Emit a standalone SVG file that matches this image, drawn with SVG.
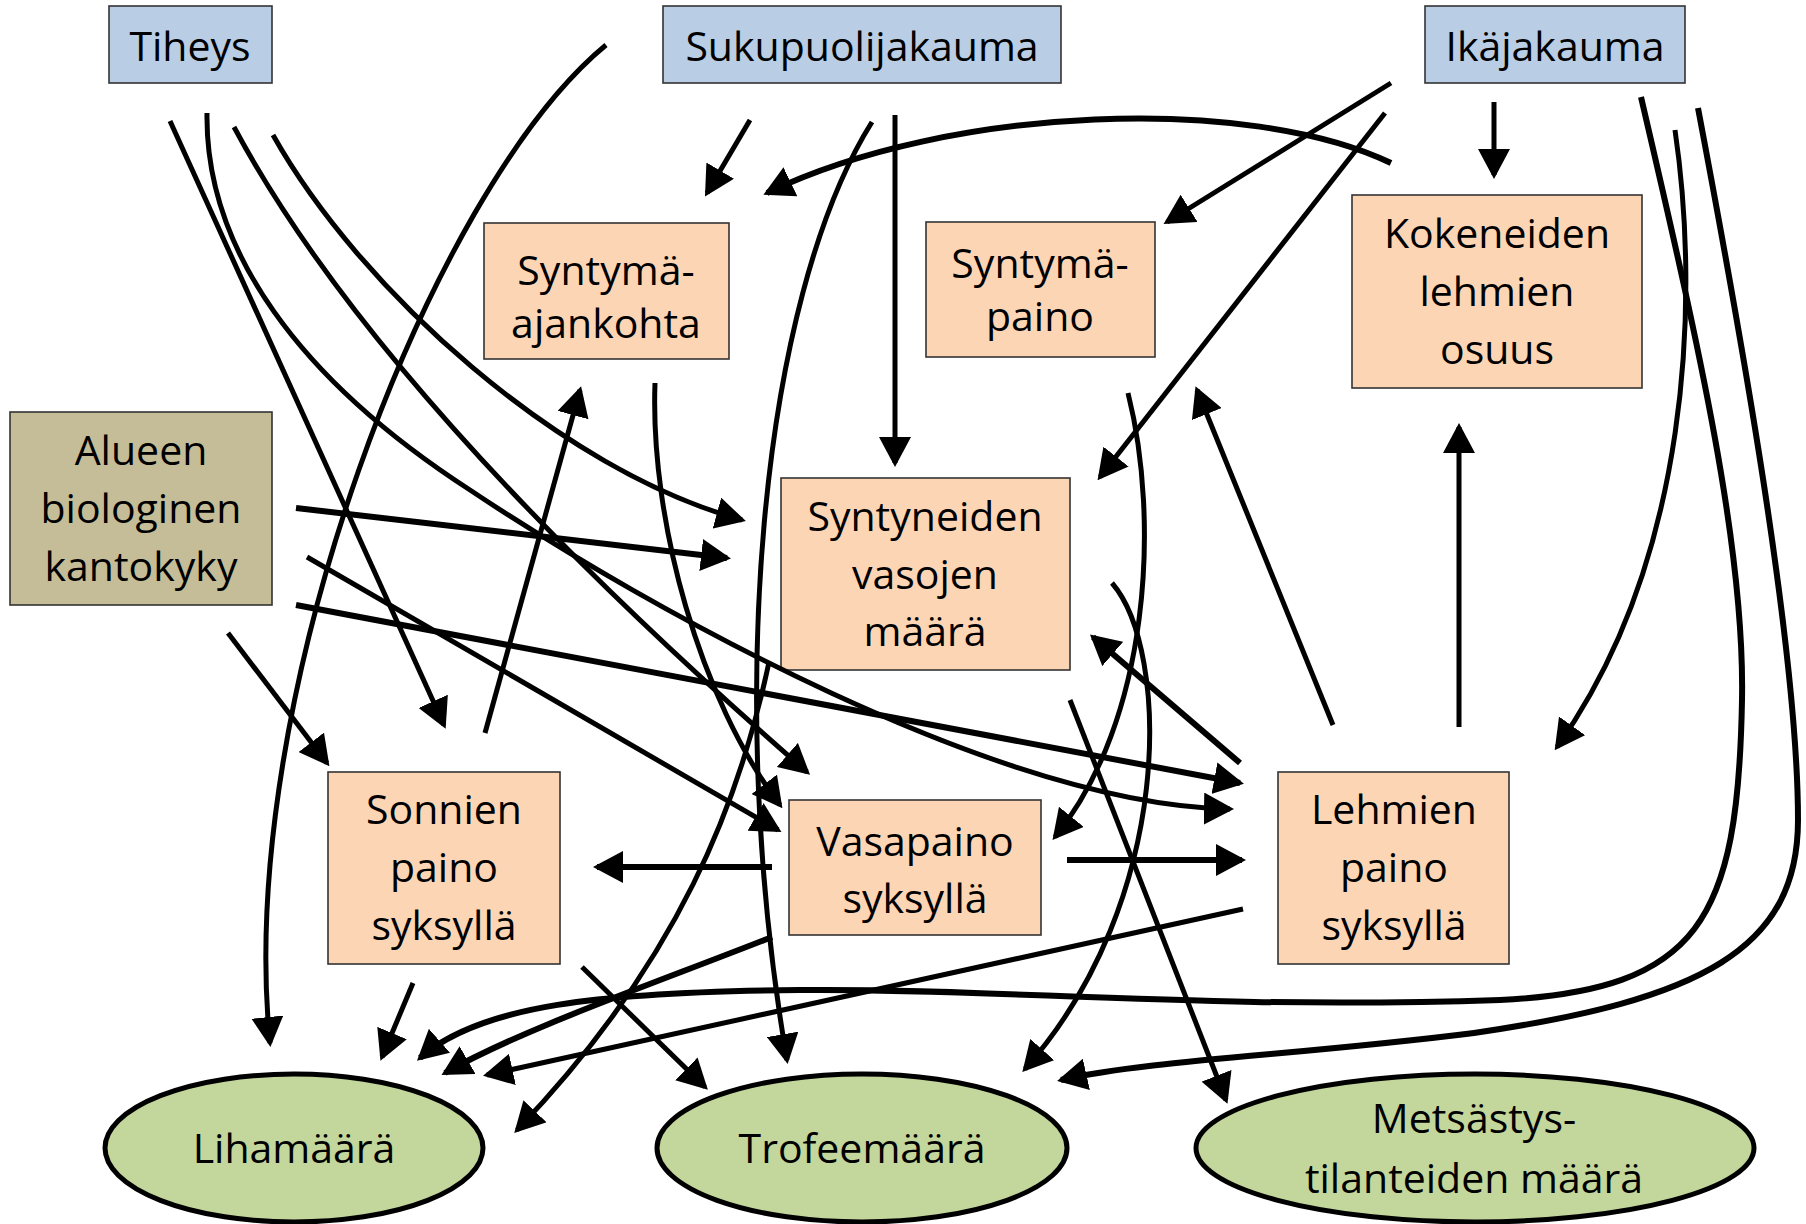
<svg xmlns="http://www.w3.org/2000/svg" width="1806" height="1224" viewBox="0 0 1806 1224">
<defs>
<style>
.box{stroke:#333;stroke-width:1.6}
.blue{fill:#B9CDE5}
.peach{fill:#FCD5B5}
.khaki{fill:#C4BD97}
.ell{fill:#C3D69B;stroke:#000;stroke-width:5}
text{font-family:"Open Sans","Noto Sans",sans-serif;font-size:41px;fill:#000;text-anchor:middle}
.c path{fill:none;stroke:#000;stroke-width:5;marker-end:url(#ah)}
.c path.t{stroke-width:6}
</style>
<marker id="ah" markerUnits="userSpaceOnUse" markerWidth="30" markerHeight="32" viewBox="0 0 30 32" refX="26" refY="16" orient="auto"><path d="M0,0 L30,16 L0,32 z" fill="#000"/></marker>
</defs>
<rect width="1806" height="1224" fill="#fff"/>

<g id="n-tiheys"><rect class="box blue" x="109" y="6" width="163" height="77"/><text x="190" y="61">Tiheys</text></g>
<g id="n-sukupuolijakauma"><rect class="box blue" x="663" y="6" width="398" height="77"/><text x="862" y="61">Sukupuolijakauma</text></g>
<g id="n-ikajakauma"><rect class="box blue" x="1425" y="6" width="260" height="77"/><text x="1555" y="61">Ikäjakauma</text></g>
<g id="n-syntymaajankohta"><rect class="box peach" x="484" y="223" width="245" height="136"/><text x="606" y="285">Syntymä-</text><text x="606" y="338">ajankohta</text></g>
<g id="n-syntymapaino"><rect class="box peach" x="926" y="222" width="229" height="135"/><text x="1040" y="278">Syntymä-</text><text x="1040" y="331">paino</text></g>
<g id="n-kokeneiden"><rect class="box peach" x="1352" y="195" width="290" height="193"/><text x="1497" y="248">Kokeneiden</text><text x="1497" y="306">lehmien</text><text x="1497" y="364">osuus</text></g>
<g id="n-alueen"><rect class="box khaki" x="10" y="412" width="262" height="193"/><text x="141" y="465">Alueen</text><text x="141" y="523">biologinen</text><text x="141" y="581">kantokyky</text></g>
<g id="n-syntyneiden"><rect class="box peach" x="781" y="478" width="289" height="192"/><text x="925" y="531">Syntyneiden</text><text x="925" y="589">vasojen</text><text x="925" y="646">määrä</text></g>
<g id="n-sonnien"><rect class="box peach" x="328" y="772" width="232" height="192"/><text x="444" y="824">Sonnien</text><text x="444" y="882">paino</text><text x="444" y="940">syksyllä</text></g>
<g id="n-vasapaino"><rect class="box peach" x="789" y="800" width="252" height="135"/><text x="915" y="856">Vasapaino</text><text x="915" y="913">syksyllä</text></g>
<g id="n-lehmien"><rect class="box peach" x="1278" y="772" width="231" height="192"/><text x="1394" y="824">Lehmien</text><text x="1394" y="882">paino</text><text x="1394" y="940">syksyllä</text></g>
<g id="n-lihamaara"><ellipse class="ell" cx="294" cy="1148" rx="189" ry="74"/><text x="294" y="1163">Lihamäärä</text></g>
<g id="n-trofeemaara"><ellipse class="ell" cx="862" cy="1148" rx="205" ry="74"/><text x="862" y="1163">Trofeemäärä</text></g>
<g id="n-metsastys"><ellipse class="ell" cx="1475" cy="1148" rx="279" ry="74"/><text x="1474" y="1133">Metsästys-</text><text x="1474" y="1193">tilanteiden määrä</text></g>

<g id="connectors" class="c">
<path d="M170,121 L444,725"/>
<path d="M207,113 C 205,250 300,380 470,490 C 650,610 1000,805 1230,809"/>
<path d="M234,127 Q 380,400 807,772"/>
<path d="M273,135 C 360,290 560,470 742,520"/>
<path d="M606,45 C 430,190 235,700 270,1043"/>
<path d="M750,120 L707,193"/>
<path d="M872,122 C 760,300 725,700 787,1060"/>
<path d="M895,115 L895,463"/>
<path d="M1391,83 L1167,222"/>
<path d="M1385,113 L1100,477"/>
<path class="t" d="M1391,163 C 1250,95 950,105 767,193"/>
<path d="M1494,102 L1494,175"/>
<path class="t" d="M1641,97 C 1700,350 1745,550 1742,700 C 1738,920 1700,990 1500,1000 C 1200,1010 1000,988 800,990 C 600,992 480,1005 420,1058"/>
<path d="M1675,130 C 1700,300 1690,560 1557,747"/>
<path class="t" d="M1698,108 C 1740,330 1798,650 1798,820 C 1798,950 1700,1000 1474,1033 C 1300,1055 1150,1060 1061,1080"/>
<path class="t" d="M296,508 L727,558"/>
<path d="M307,557 L778,830"/>
<path class="t" d="M296,605 L1240,783"/>
<path d="M228,633 L327,763"/>
<path d="M655,383 C 650,520 700,700 780,805"/>
<path d="M1128,393 C 1160,520 1150,720 1055,837"/>
<path d="M769,662 C 740,800 680,960 517,1130"/>
<path d="M1070,700 L1226,1100"/>
<path d="M1112,583 C 1170,650 1175,900 1025,1069"/>
<path class="t" d="M1240,763 L1093,637"/>
<path d="M1333,725 L1197,390"/>
<path d="M1459,727 L1459,427"/>
<path d="M1243,909 L487,1075"/>
<path d="M485,733 L580,390"/>
<path d="M413,983 L382,1057"/>
<path d="M582,967 L705,1087"/>
<path class="t" d="M772,867 L597,867"/>
<path class="t" d="M1067,860 L1242,860"/>
<path class="t" d="M772,937 C 650,985 520,1030 445,1073"/>
</g>
</svg>
